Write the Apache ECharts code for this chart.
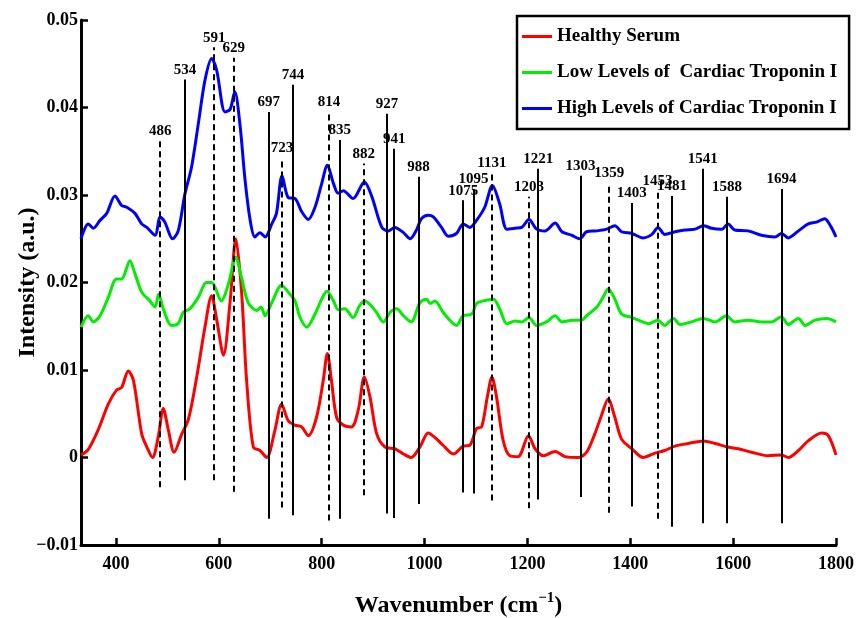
<!DOCTYPE html>
<html>
<head>
<meta charset="utf-8">
<script src="https://cdn.jsdelivr.net/npm/echarts@6/dist/echarts.min.js"></script>
<style>
  html, body { margin: 0; padding: 0; background: #fff; }
  #chartmain { width: 857px; height: 618px; }
</style>
</head>
<body>
<div id="chartmain"></div>
<script>
// wavenumber / intensity
var healthyX = [332,346,365,385,401,411,424,434,450,460,471,482,492,502,513,528,541,557,573,586,596,609,622,633,644,654,667,680,693,709,722,735,748,761,774,790,803,811,819,829,842,858,871,883,894,907,923,942,959,974,991,1007,1020,1036,1056,1075,1088,1101,1111,1122,1131,1140,1153,1166,1182,1202,1215,1231,1254,1273,1299,1315,1331,1344,1357,1370,1383,1403,1425,1448,1467,1487,1513,1542,1565,1590,1610,1636,1668,1694,1707,1727,1746,1772,1785,1800];
var healthyY = [0.0003,0.0009,0.0031,0.0061,0.0077,0.0080,0.0099,0.0088,0.0027,0.0012,0.0000,0.0023,0.0056,0.0031,0.0006,0.0027,0.0044,0.0092,0.0149,0.0185,0.0157,0.0117,0.0179,0.0250,0.0191,0.0088,0.0012,0.0008,0.0000,0.0031,0.0061,0.0042,0.0037,0.0035,0.0025,0.0046,0.0088,0.0119,0.0088,0.0046,0.0037,0.0035,0.0054,0.0092,0.0069,0.0027,0.0012,0.0010,0.0004,0.0000,0.0012,0.0028,0.0023,0.0014,0.0004,0.0013,0.0014,0.0033,0.0035,0.0069,0.0092,0.0069,0.0019,0.0002,0.0001,0.0025,0.0010,0.0002,0.0007,0.0001,0.0000,0.0006,0.0027,0.0048,0.0067,0.0046,0.0021,0.0010,0.0000,0.0005,0.0008,0.0013,0.0016,0.0019,0.0016,0.0012,0.0010,0.0006,0.0002,0.0003,0.0000,0.0008,0.0019,0.0028,0.0025,0.0003];

var lowX = [332,346,356,369,385,401,411,427,437,450,466,476,483,492,508,521,531,544,560,576,586,605,618,633,644,657,674,682,690,703,722,735,748,758,771,787,800,810,823,832,845,861,874,884,904,920,933,946,959,974,991,1004,1011,1020,1036,1049,1062,1075,1092,1101,1114,1134,1146,1160,1176,1189,1203,1218,1237,1254,1267,1289,1305,1315,1335,1347,1357,1370,1383,1403,1416,1436,1453,1467,1484,1497,1519,1542,1565,1587,1603,1629,1655,1675,1694,1707,1727,1740,1759,1782,1800];
var lowY = [0.0149,0.0162,0.0155,0.0162,0.0183,0.0204,0.0204,0.0225,0.0210,0.0189,0.0179,0.0172,0.0187,0.0170,0.0151,0.0153,0.0166,0.0170,0.0183,0.0200,0.0200,0.0179,0.0197,0.0229,0.0206,0.0177,0.0168,0.0172,0.0162,0.0177,0.0197,0.0189,0.0179,0.0160,0.0149,0.0164,0.0181,0.0190,0.0179,0.0169,0.0170,0.0160,0.0174,0.0179,0.0168,0.0155,0.0166,0.0170,0.0162,0.0155,0.0177,0.0181,0.0176,0.0179,0.0166,0.0157,0.0151,0.0162,0.0164,0.0176,0.0179,0.0181,0.0170,0.0153,0.0156,0.0155,0.0160,0.0151,0.0155,0.0162,0.0155,0.0157,0.0157,0.0162,0.0172,0.0183,0.0193,0.0181,0.0164,0.0160,0.0157,0.0153,0.0157,0.0151,0.0159,0.0152,0.0155,0.0159,0.0155,0.0162,0.0155,0.0157,0.0155,0.0155,0.0161,0.0152,0.0159,0.0151,0.0157,0.0159,0.0155];

var highX = [332,346,356,369,382,398,411,421,437,450,460,476,486,495,510,521,534,547,560,573,586,596,612,622,631,641,651,661,670,680,690,703,712,723,735,748,761,774,787,800,811,823,832,842,861,883,897,917,930,942,959,972,985,994,1007,1017,1033,1046,1062,1075,1088,1101,1117,1132,1146,1160,1176,1189,1203,1218,1234,1254,1267,1286,1302,1315,1335,1354,1370,1383,1403,1425,1442,1454,1467,1487,1506,1526,1542,1558,1578,1590,1603,1629,1655,1681,1694,1707,1727,1746,1762,1778,1791,1800];
var highY = [0.0250,0.0267,0.0262,0.0271,0.0279,0.0299,0.0288,0.0286,0.0279,0.0267,0.0263,0.0254,0.0275,0.0269,0.0250,0.0259,0.0301,0.0332,0.0381,0.0431,0.0456,0.0442,0.0395,0.0398,0.0418,0.0381,0.0317,0.0271,0.0252,0.0257,0.0252,0.0267,0.0279,0.0322,0.0297,0.0296,0.0281,0.0272,0.0286,0.0313,0.0334,0.0313,0.0302,0.0305,0.0296,0.0315,0.0299,0.0263,0.0259,0.0263,0.0257,0.0250,0.0261,0.0273,0.0277,0.0275,0.0263,0.0253,0.0256,0.0267,0.0263,0.0271,0.0286,0.0311,0.0290,0.0261,0.0262,0.0263,0.0272,0.0261,0.0259,0.0268,0.0258,0.0254,0.0250,0.0258,0.0259,0.0261,0.0265,0.0258,0.0256,0.0251,0.0255,0.0263,0.0255,0.0258,0.0260,0.0261,0.0265,0.0262,0.0261,0.0267,0.0260,0.0259,0.0254,0.0252,0.0256,0.0251,0.0259,0.0267,0.0269,0.0273,0.0263,0.0252];

// band assignment lines
var peakPos = [486,534,591,629,697,723,744,814,835,882,927,941,988,1075,1095,1131,1203,1221,1303,1359,1403,1453,1481,1541,1588,1694];
var peakTop = [0.0362,0.0432,0.0469,0.0457,0.0395,0.0343,0.0426,0.0395,0.0363,0.0336,0.0393,0.0353,0.0321,0.0294,0.0307,0.0326,0.0298,0.0330,0.0322,0.0314,0.0291,0.0305,0.0299,0.0330,0.0298,0.0307];
var peakBottom = [-0.0034,-0.0026,-0.0026,-0.0039,-0.0070,-0.0057,-0.0066,-0.0072,-0.0070,-0.0043,-0.0064,-0.0069,-0.0053,-0.0040,-0.0041,-0.0049,-0.0058,-0.0048,-0.0045,-0.0063,-0.0056,-0.0070,-0.0079,-0.0075,-0.0075,-0.0075];
var peakDashed = [1,0,1,1,0,1,0,1,0,1,0,0,0,0,0,1,1,0,0,1,0,1,0,0,0,0];

var xTicks = [400,600,800,1000,1200,1400,1600,1800];
var seriesNames = ['Healthy Serum', 'Low Levels of  Cardiac Troponin I', 'High Levels of Cardiac Troponin I'];

window.onload = function () {
  var serif = 'Liberation Serif';

  function pairs(xs, ys) {
    var out = [];
    for (var i = 0; i < xs.length; i++) out.push([xs[i], ys[i]]);
    return out;
  }

  var lines = [];
  for (var i = 0; i < peakPos.length; i++) {
    var st = { color: '#000', width: 2, type: peakDashed[i] ? [6, 4] : 'solid' };
    var lb = { show: true, position: 'end', distance: 2, formatter: String(peakPos[i]) };
    lines.push([
      { coord: [peakPos[i], peakBottom[i]], lineStyle: st, label: lb },
      { coord: [peakPos[i], peakTop[i]], lineStyle: st, label: lb }
    ]);
  }

  function spectrum(name, xs, ys, color) {
    return {
      name: name,
      type: 'line',
      data: pairs(xs, ys),
      showSymbol: false,
      smooth: 0.3,
      lineStyle: { color: color, width: 3 },
      itemStyle: { color: color },
      z: 3
    };
  }

  var option = {
    animation: false,
    backgroundColor: '#fff',
    grid: { left: 81, right: 21, top: 20, bottom: 73, outerBoundsMode: 'none', containLabel: false },
    legend: {
      data: seriesNames,
      orient: 'vertical',
      left: 517,
      top: 16,
      icon: 'rect',
      itemWidth: 30,
      itemHeight: 3,
      itemGap: 17,
      padding: [11, 12, 11, 5],
      borderColor: '#000',
      borderWidth: 2.5,
      backgroundColor: '#fff',
      textStyle: { fontFamily: serif, fontWeight: 'bold', fontSize: 19, color: '#000' }
    },
    xAxis: {
      type: 'value',
      min: 332,
      max: 1800,
      splitNumber: 7,
      name: '{a|Wavenumber (cm}{b|\u22121}{a|)}',
      nameLocation: 'middle',
      nameGap: 46,
      nameMoveOverlap: false,
      nameTextStyle: {
        rich: {
          a: { fontFamily: serif, fontWeight: 'bold', fontSize: 24, color: '#000' },
          b: { fontFamily: serif, fontWeight: 'bold', fontSize: 15, color: '#000', padding: [0, 0, 14, 0] }
        }
      },
      axisLine: { onZero: false, lineStyle: { color: '#000', width: 3 } },
      axisTick: { inside: true, length: 7, lineStyle: { color: '#000', width: 2.5 }, customValues: xTicks },
      axisLabel: {
        customValues: xTicks,
        margin: 10,
        fontFamily: serif, fontWeight: 'bold', fontSize: 18, color: '#000',
        formatter: function (v) { return String(v); }
      },
      splitLine: { show: false }
    },
    yAxis: {
      type: 'value',
      min: -0.01,
      max: 0.05,
      interval: 0.01,
      name: 'Intensity (a.u.)',
      nameLocation: 'middle',
      nameGap: 41,
      nameMoveOverlap: false,
      nameTextStyle: { fontFamily: serif, fontWeight: 'bold', fontSize: 24, color: '#000' },
      axisLine: { show: true, onZero: false, lineStyle: { color: '#000', width: 3 } },
      axisTick: { show: true, inside: true, length: 7, lineStyle: { color: '#000', width: 2.5 } },
      axisLabel: {
        margin: 3,
        fontFamily: serif, fontWeight: 'bold', fontSize: 18, color: '#000',
        formatter: function (v) {
          if (Math.abs(v) < 1e-9) return '0';
          return v.toFixed(2).replace('-', '\u2212');
        }
      },
      splitLine: { show: false }
    },
    series: [
      {
        name: 'bands',
        type: 'line',
        data: [],
        silent: true,
        z: 2,
        markLine: {
          silent: true,
          symbol: ['none', 'none'],
          animation: false,
          label: { color: '#000', fontFamily: serif, fontWeight: 'bold', fontSize: 15 },
          emphasis: { disabled: true },
          data: lines
        }
      },
      spectrum(seriesNames[0], healthyX, healthyY, '#ff0000'),
      spectrum(seriesNames[1], lowX, lowY, '#00ee00'),
      spectrum(seriesNames[2], highX, highY, '#0000ff')
    ]
  };

  var myChart = echarts.init(document.getElementById('chartmain'));
  myChart.setOption(option);
};
</script>
</body>
</html>
